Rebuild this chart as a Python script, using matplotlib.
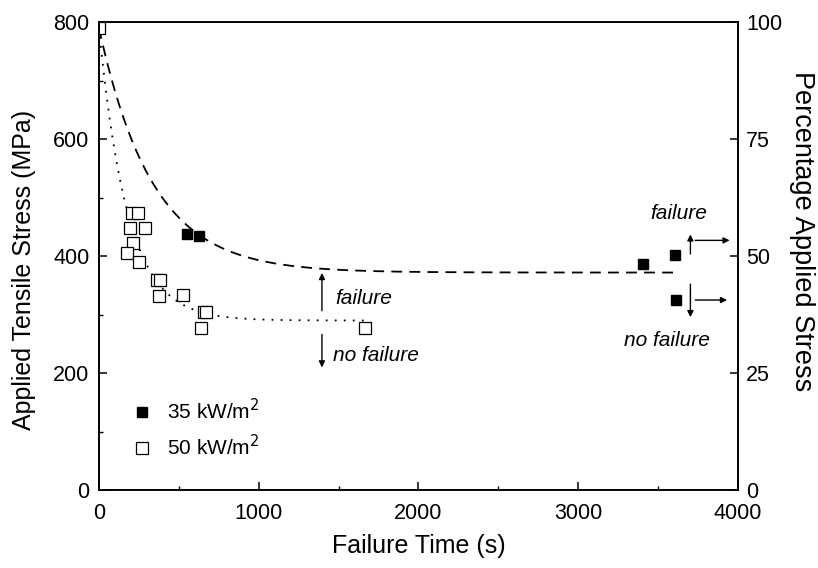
import numpy as np
import matplotlib.pyplot as plt

plt.rcParams['font.family'] = ['Liberation Sans', 'DejaVu Sans']

# 35 kW/m2 (filled squares)
t35 = [551, 626, 3405, 3606, 3610]
s35 = [438, 435, 386, 402, 325]

# 50 kW/m2 (open squares)
t50 = [0, 208, 243, 194, 290, 210, 173, 248, 365, 382, 373, 526, 655, 670, 640, 1667]
s50 = [790, 473, 473, 449, 449, 423, 406, 390, 360, 360, 332, 333, 305, 305, 278, 277]

# fitted trend curves (plateau, amplitude, decay constant, end time)
fit35 = (372, 418, 335, 3600)
fit50 = (290, 500, 180, 1660)

fig = plt.figure(figsize=(8.18, 5.68), dpi=100)
ax = fig.add_axes([0.121, 0.137, 0.781, 0.824])

for (plateau, amp, tau, tend), ls in [(fit35, (0, (6, 4))), (fit50, (0, (1, 4)))]:
    tt = np.linspace(0, tend, 400)
    ax.plot(tt, plateau + amp * np.exp(-tt / tau), color='black', lw=1.3, linestyle=ls)

ax.plot(t35, s35, 's', color='black', ms=7, label='35 kW/m$^2$')
ax.plot(t50, s50, 's', mfc='white', mec='black', mew=0.9, ms=8, label='50 kW/m$^2$')

arrow = dict(arrowstyle='-|>', color='black', lw=1, mutation_scale=9)
ax.annotate('', xy=(1396, 376), xytext=(1396, 302), arrowprops=arrow)
ax.annotate('', xy=(1396, 205), xytext=(1396, 271), arrowprops=arrow)
ax.text(1477, 328, 'failure', style='italic', fontsize=15, va='center')
ax.text(1465, 231, 'no failure', style='italic', fontsize=15, va='center')

ax.annotate('', xy=(3703, 442), xytext=(3703, 399), arrowprops=arrow)
ax.annotate('', xy=(3966, 427), xytext=(3716, 427), arrowprops=arrow)
ax.annotate('', xy=(3703, 291), xytext=(3703, 357), arrowprops=arrow)
ax.annotate('', xy=(3950, 325), xytext=(3716, 325), arrowprops=arrow)
ax.text(3631, 473, 'failure', style='italic', fontsize=15, va='center', ha='center')
ax.text(3556, 256, 'no failure', style='italic', fontsize=15, va='center', ha='center')

ax.set_xlim(0, 4000)
ax.set_ylim(0, 800)
ax.set_xticks([0, 1000, 2000, 3000, 4000])
ax.set_xticks(np.arange(500, 4000, 1000), minor=True)
ax.set_yticks([0, 200, 400, 600, 800])
ax.set_yticks(np.arange(100, 800, 200), minor=True)
ax.tick_params(direction='in', labelsize=15.5, length=6, width=1.1, top=False, right=False)
ax.tick_params(which='minor', direction='in', length=3, width=1, top=False, right=False)
ax.tick_params(axis='x', pad=9)
ax.tick_params(axis='y', pad=7)
ax.set_xlabel('Failure Time (s)', fontsize=18, va='center')
ax.set_ylabel('Applied Tensile Stress (MPa)', fontsize=18, va='center')
ax.xaxis.set_label_coords(0.5, -0.12)
ax.yaxis.set_label_coords(-0.117, 0.47)

ax2 = ax.twinx()
ax2.set_ylim(0, 100)
ax2.set_yticks([0, 25, 50, 75, 100])
ax2.tick_params(direction='in', labelsize=15.5, length=6, width=1.1, pad=6)
ax2.set_ylabel('Percentage Applied Stress', fontsize=19.5, rotation=270, va='center')
ax2.yaxis.set_label_coords(1.1, 0.553)
for a in (ax, ax2):
    for sp in a.spines.values():
        sp.set_linewidth(1.2)

ax.legend(loc='lower left', bbox_to_anchor=(0.019, 0.026), frameon=False, fontsize=15,
          handletextpad=0.6, labelspacing=0.5, handlelength=1.2)

fig.savefig('out.png', dpi=100)
